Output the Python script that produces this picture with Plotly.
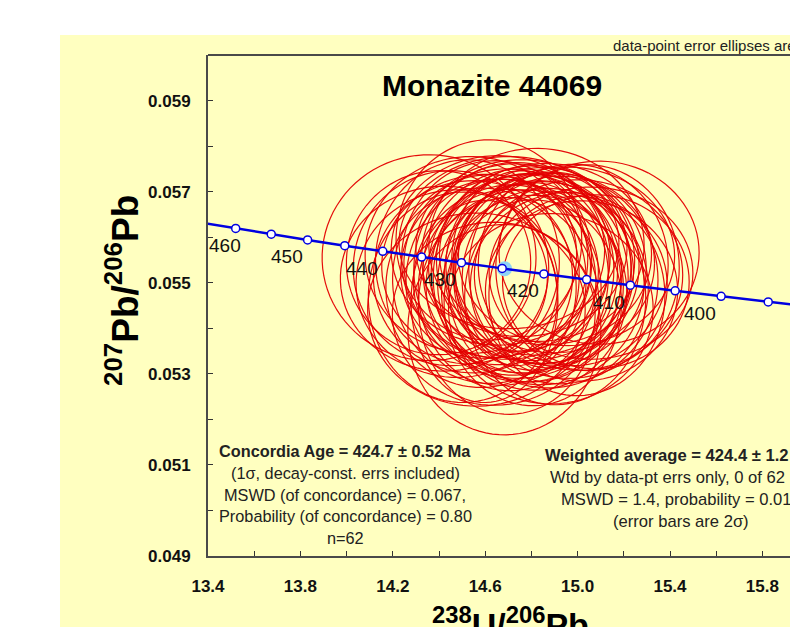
import numpy as np
import plotly.graph_objects as go

# ---------------- data ----------------
# Concordia (Tera-Wasserburg) age markers, every 5 Ma
conc_age = [465, 460, 455, 450, 445, 440, 435, 430, 425, 420, 415, 410, 405, 400, 395, 390]
conc_x = [13.3693, 13.5199, 13.6738, 13.8312, 13.9921, 14.1566, 14.3250, 14.4972,
          14.6735, 14.8540, 15.0389, 15.2283, 15.4223, 15.6212, 15.8252, 16.0343]
conc_y = [0.056320, 0.056193, 0.056066, 0.055940, 0.055814, 0.055689, 0.055564, 0.055440,
          0.055315, 0.055192, 0.055069, 0.054946, 0.054823, 0.054701, 0.054579, 0.054457]
label_ages = [460, 450, 440, 430, 420, 410, 400]

# Concordia age point
conc_age_x = [14.684]
conc_age_y = [0.055308]

# Data-point error ellipses (centre, 2-sigma half-axes)
ell_x = [14.357, 14.616, 14.683, 15.093, 15.058, 14.452, 14.478, 14.523, 14.547, 14.582,
         14.604, 14.618, 14.641, 14.662, 14.668, 14.692, 14.735, 14.706, 14.724, 14.733,
         14.738, 14.752, 14.758, 14.771, 14.779, 14.793, 14.797, 14.812, 14.818, 14.833,
         14.841, 14.848, 14.802, 14.874, 14.883, 14.897, 14.924, 14.881, 14.962, 14.981,
         15.004, 15.017, 15.043, 14.421, 14.503, 14.538, 14.597, 14.655, 14.702, 14.757,
         14.806, 14.861, 14.903, 14.952, 14.997, 14.562, 14.637, 14.884, 15.079, 14.398,
         14.703, 14.822]
ell_xe = [0.463, 0.402, 0.418, 0.433, 0.441, 0.423, 0.437, 0.398, 0.431, 0.412,
          0.452, 0.419, 0.403, 0.428, 0.411, 0.444, 0.272, 0.396, 0.433, 0.408,
          0.449, 0.421, 0.303, 0.427, 0.413, 0.438, 0.422, 0.401, 0.429, 0.409,
          0.447, 0.418, 0.331, 0.432, 0.414, 0.436, 0.424, 0.352, 0.426, 0.411,
          0.451, 0.416, 0.397, 0.448, 0.409, 0.458, 0.318, 0.462, 0.391, 0.457,
          0.384, 0.459, 0.392, 0.468, 0.381, 0.471, 0.439, 0.443, 0.404, 0.399,
          0.476, 0.466]
ell_y = [0.05555, 0.05594, 0.05397, 0.05566, 0.05521, 0.05532, 0.05498, 0.05546, 0.05513, 0.05489,
         0.05536, 0.05508, 0.05552, 0.05524, 0.05501, 0.05541, 0.05516, 0.05484, 0.05529, 0.05557,
         0.05503, 0.05526, 0.05547, 0.05493, 0.05519, 0.05534, 0.05511, 0.05478, 0.05549, 0.05523,
         0.05499, 0.05538, 0.05514, 0.05488, 0.05531, 0.05543, 0.05506, 0.05527, 0.05494, 0.05539,
         0.05517, 0.05482, 0.05533, 0.05509, 0.05468, 0.05561, 0.05459, 0.05571, 0.05449, 0.05576,
         0.05456, 0.05563, 0.05466, 0.05558, 0.05471, 0.05441, 0.05432, 0.05443, 0.05502, 0.05544,
         0.05588, 0.05583]
ell_ye = [0.00226, 0.00220, 0.00231, 0.00201, 0.00189, 0.00214, 0.00206, 0.00224, 0.00211, 0.00219,
          0.00202, 0.00229, 0.00216, 0.00204, 0.00226, 0.00209, 0.00198, 0.00221, 0.00232, 0.00207,
          0.00213, 0.00224, 0.00199, 0.00211, 0.00218, 0.00205, 0.00229, 0.00214, 0.00208, 0.00201,
          0.00223, 0.00215, 0.00206, 0.00219, 0.00212, 0.00197, 0.00228, 0.00214, 0.00204, 0.00221,
          0.00209, 0.00198, 0.00226, 0.00203, 0.00231, 0.00216, 0.00222, 0.00208, 0.00238, 0.00194,
          0.00226, 0.00199, 0.00234, 0.00196, 0.00219, 0.00212, 0.00201, 0.00209, 0.00191, 0.00202,
          0.00189, 0.00212]

x_tickvals = [13.4, 13.8, 14.2, 14.6, 15.0, 15.4, 15.8]
x_ticktext = ["13.4", "13.8", "14.2", "14.6", "15.0", "15.4", "15.8"]
x_minor = [13.6, 14.0, 14.4, 14.8, 15.2, 15.6]
y_tickvals = [0.049, 0.051, 0.053, 0.055, 0.057, 0.059]
y_ticktext = ["0.049", "0.051", "0.053", "0.055", "0.057", "0.059"]
y_minor = [0.050, 0.052, 0.054, 0.056, 0.058, 0.060]

title_text = "Monazite 44069"
conc_lines = ["<b>Concordia Age = 424.7 ± 0.52 Ma</b>",
              "(1σ, decay-const. errs included)",
              "MSWD (of concordance) = 0.067,",
              "Probability (of concordance) = 0.80",
              "n=62"]
wavg_lines = ["<b>Weighted average = 424.4 ± 1.2 Ma</b>",
              "Wtd by data-pt errs only, 0 of 62 rej.",
              "MSWD = 1.4, probability = 0.015",
              "(error bars are 2σ)"]
note_text = "data-point error ellipses are 2σ"

FONT = "Liberation Sans, Arial, sans-serif"

# ---------------- figure ----------------
fig = go.Figure()

# error ellipses
t = np.linspace(0, 2 * np.pi, 90)
ex, ey = [], []
for cx, sx, cy, sy in zip(ell_x, ell_xe, ell_y, ell_ye):
    ex += list(cx + sx * np.cos(t)) + [None]
    ey += list(cy + sy * np.sin(t)) + [None]
fig.add_trace(go.Scatter(x=ex, y=ey, mode="lines",
                         line=dict(color="rgba(228,0,0,0.95)", width=1.2, simplify=False),
                         hoverinfo="skip"))

# concordia age point
fig.add_trace(go.Scatter(x=conc_age_x, y=conc_age_y, mode="markers",
                         marker=dict(size=15, color="#8fd3f4", line=dict(width=0))))

# concordia curve
fig.add_trace(go.Scatter(x=conc_x, y=conc_y, mode="lines+markers",
                         line=dict(color="#0000e0", width=2.5),
                         marker=dict(symbol="circle", size=8, color="white",
                                     line=dict(color="#0000e0", width=1.5)),
                         cliponaxis=True))

W = 582.0   # plot width in px
H = 501.0   # plot height in px
def px(xp):
    return (xp - 208) / W
def py(yp):
    return (556 - yp) / H

shapes = [
    dict(type="rect", xref="paper", yref="paper", x0=px(60), x1=1.2, y0=py(700), y1=py(35),
         fillcolor="#ffffc0", line=dict(width=0), layer="below"),
    dict(type="line", xref="paper", yref="paper", x0=0, x1=1.2, y0=1, y1=1,
         line=dict(color="#4a4a4a", width=2)),
]

ann = []
# age labels on the concordia (placed below-left of each 10 Ma marker)
for a in label_ages:
    i = conc_age.index(a)
    ann.append(dict(xref="x", yref="y", x=conc_x[i], y=conc_y[i], text=str(a),
                    showarrow=False, font=dict(family=FONT, size=19, color="#111"),
                    xanchor="center", yanchor="middle",
                    xshift=-11 if a == 460 else -21, yshift=-17))

ann.append(dict(xref="paper", yref="paper", x=px(492), y=py(86), text="<b>%s</b>" % title_text,
                showarrow=False, font=dict(family=FONT, size=30, color="#000"),
                xanchor="center", yanchor="middle"))
ann.append(dict(xref="paper", yref="paper", x=px(611), y=py(46), text=note_text,
                showarrow=False, font=dict(family=FONT, size=15, color="#222"),
                xanchor="left", yanchor="middle"))
for i, s in enumerate(conc_lines):
    ann.append(dict(xref="paper", yref="paper", x=px(345), y=py(451 + 21.8 * i), text=s,
                    showarrow=False, font=dict(family=FONT, size=16.3, color="#222"),
                    xanchor="center", yanchor="middle"))
for i, s in enumerate(wavg_lines):
    ann.append(dict(xref="paper", yref="paper", x=px(681), y=py(455 + 22 * i), text=s,
                    showarrow=False, font=dict(family=FONT, size=16.6, color="#222"),
                    xanchor="center", yanchor="middle"))
# axis titles
ann.append(dict(xref="paper", yref="paper", x=px(122), y=py(291),
                text="<b><sup>207</sup>Pb/<sup>206</sup>Pb</b>", textangle=-90,
                showarrow=False, font=dict(family=FONT, size=37, color="#000"),
                xanchor="center", yanchor="middle"))
ann.append(dict(xref="paper", yref="paper", x=px(510), y=py(599),
                text="<b><sup>238</sup>U/<sup>206</sup>Pb</b>",
                showarrow=False, font=dict(family=FONT, size=34, color="#000"),
                xanchor="center", yanchor="top"))

axis_common = dict(showgrid=False, zeroline=False, showline=True, linecolor="#4a4a4a",
                   linewidth=2, ticks="inside", ticklen=5, tickcolor="#333", tickwidth=1,
                   tickfont=dict(family=FONT, size=17, color="#111", weight="bold"),
                   fixedrange=True)

fig.update_layout(
    width=790, height=627,
    margin=dict(l=208, r=0, t=55, b=71),
    paper_bgcolor="white", plot_bgcolor="#e0e0e0",
    showlegend=False,
    shapes=shapes, annotations=ann,
    xaxis=dict(range=[13.4, 13.4 + 582 / 231.0], tickmode="array", tickvals=x_tickvals,
               ticktext=x_ticktext, ticklabelstandoff=14,
               minor=dict(tickmode="array", tickvals=x_minor, ticks="inside", ticklen=5,
                          tickcolor="#333"),
               **axis_common),
    yaxis=dict(range=[0.049, 0.060], tickmode="array", tickvals=y_tickvals,
               ticktext=y_ticktext, ticklabelstandoff=12,
               minor=dict(tickmode="array", tickvals=y_minor, ticks="inside", ticklen=5,
                          tickcolor="#333"),
               **axis_common),
)

# remove the browser's default 8px page margin so the figure fills the window exactly
fig.write_html("out.html",
               config={"displayModeBar": False, "staticPlot": True},
               post_script="document.body.style.margin='0px';"
                           "document.documentElement.style.overflow='hidden';"
                           "document.body.style.overflow='hidden';")
